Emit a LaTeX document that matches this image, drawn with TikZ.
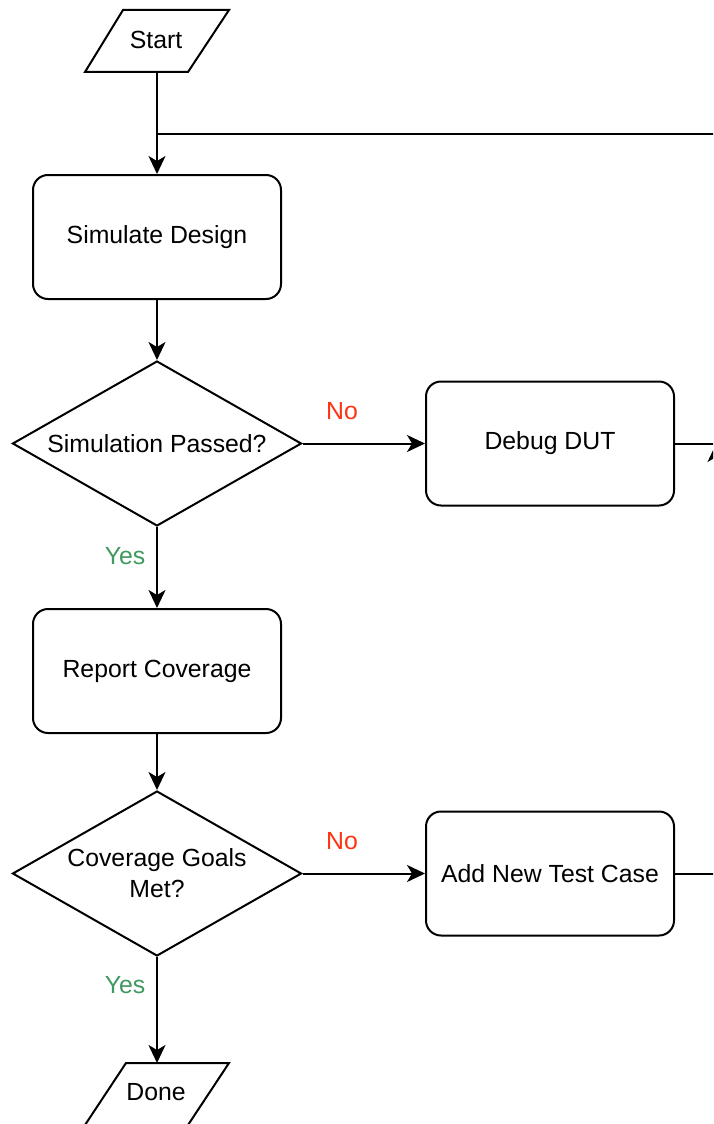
\documentclass[tikz,border=0pt]{standalone}
\usepackage{fontspec}
\setmainfont{Liberation Sans}
\usetikzlibrary{shapes.geometric,arrows.meta}
\definecolor{nored}{RGB}{255,51,17}
\definecolor{yesgreen}{RGB}{64,153,96}
\tikzset{
  x=1pt, y=-1pt,
  every node/.style={font=\fontsize{24.8}{31}\selectfont, inner sep=0pt},
  box/.style={draw, line width=2pt, rounded corners=15pt, minimum width=248pt, minimum height=124pt, align=center},
  dia/.style={draw, line width=2pt, diamond, aspect=1.75, minimum width=289pt, minimum height=165pt, align=center},
  txt/.style={align=center},
  conn/.style={line width=2pt, -{Stealth[length=18pt,width=17pt,inset=5pt]}},
  plain/.style={line width=2pt},
  para/.style={draw, line width=2pt, line join=miter},
  nolab/.style={text=nored},
  yeslab/.style={text=yesgreen}
}
\begin{document}
\begin{tikzpicture}
\useasboundingbox (0,0) rectangle (713,1124);
\clip (0,0) rectangle (713,1124);
\fill[white] (0,0) rectangle (713,1124);
% Start
\draw[para] (123,10) -- (229,10) -- (188,72) -- (85,72) -- cycle;
\node[txt, minimum height=62pt] (start) at (156,40) {Start};
% Done
\draw[para] (126,1063) -- (229,1063) -- (188,1125) -- (85,1125) -- cycle;
\node[txt] (done) at (156,1092) {Done};
% boxes
\node[box] (sim) at (157,237) {Simulate Design};
\node[dia] (pass) at (157,443.5) {Simulation Passed?};
\node[box] (debug) at (550,443.5) {Debug DUT};
\node[box] (report) at (157,671) {Report Coverage};
\node[dia] (goals) at (157,873.5) {Coverage Goals\\Met?};
\node[box] (add) at (550,873.5) {Add New Test Case};
\coordinate (loop) at (157,134);
\coordinate (donetop) at (157,1063);
\coordinate (rt1) at (760,443.5);
\coordinate (rt2) at (716,873.5);
\coordinate (rt2end) at (716,444);
% connectors
\draw[conn] (157,72) -- (sim.north);
\draw[conn] (sim.south) -- (pass.north);
\draw[conn] (pass.east) -- (debug.west);
\draw[conn] (pass.south) -- (report.north);
\draw[conn] (report.south) -- (goals.north);
\draw[conn] (goals.east) -- (add.west);
\draw[conn] (goals.south) -- (donetop);
\draw[plain] (debug.east) -- (rt1) |- (loop);
\draw[conn] (add.east) -- (rt2) -- (rt2end);
% labels
\node[nolab] at (342,411) {No};
\node[yeslab] at (125,556) {Yes};
\node[nolab] at (342,841) {No};
\node[yeslab] at (125,985) {Yes};
\end{tikzpicture}
\end{document}
